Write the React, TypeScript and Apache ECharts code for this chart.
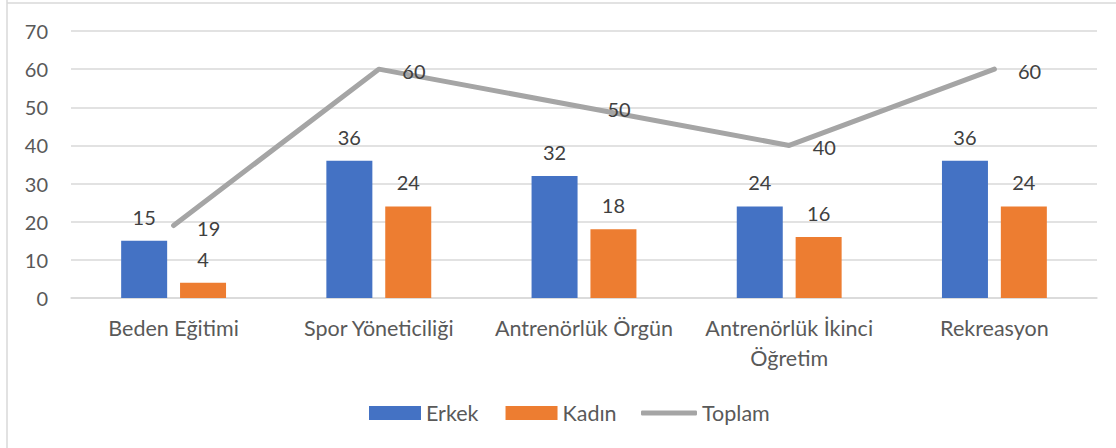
import React, { useEffect, useRef } from "react";
import * as echarts from "echarts";

const categories = [
  "Beden Eğitimi",
  "Spor Yöneticiliği",
  "Antrenörlük Örgün",
  "Antrenörlük İkinci\nÖğretim",
  "Rekreasyon",
];
const erkek = [15, 36, 32, 24, 36];
const kadin = [4, 24, 18, 16, 24];
const toplam = [19, 60, 50, 40, 60];
const seriesNames = ["Erkek", "Kadın", "Toplam"];

const FONT = "Lato, 'Open Sans', sans-serif";

export default function App() {
  const ref = useRef<HTMLDivElement>(null);
  useEffect(() => {
    document.body.style.margin = "0";
    const chart = echarts.init(ref.current!, null, { renderer: "svg" });
    const labelStyle = {
      show: true,
      color: "#404040",
      fontSize: 20,
      fontFamily: FONT,
    };
    const legendText = { color: "#595959", fontSize: 21.5, fontFamily: FONT };
    chart.setOption({
      animation: false,
      backgroundColor: "#ffffff",
      textStyle: { fontFamily: FONT },
      grid: { left: 71, right: 19, top: 31, bottom: 150, containLabel: false },
      graphic: [
        {
          type: "line",
          shape: { x1: 7, y1: 0, x2: 7, y2: 448 },
          style: { stroke: "#D9D9D9", lineWidth: 1.5 },
        },
        {
          type: "line",
          shape: { x1: 7, y1: 3, x2: 1116, y2: 3 },
          style: { stroke: "#D9D9D9", lineWidth: 1.5 },
        },
      ],
      legend: [
        {
          left: 364,
          top: 397,
          itemWidth: 52,
          itemHeight: 14,
          itemGap: 27,
          textStyle: legendText,
          data: [
            { name: seriesNames[0], icon: "rect" },
            { name: seriesNames[1], icon: "rect" },
          ],
        },
        {
          left: 636,
          top: 397,
          itemWidth: 56,
          itemHeight: 5,
          textStyle: legendText,
          data: [{ name: seriesNames[2], icon: "roundRect", itemStyle: { color: "#A5A5A5" } }],
        },
      ],
      xAxis: {
        type: "category",
        data: categories,
        axisTick: { show: false },
        axisLine: { lineStyle: { color: "#D9D9D9", width: 1.5 } },
        axisLabel: {
          color: "#595959",
          fontSize: 21.5,
          fontFamily: FONT,
          margin: 15,
          lineHeight: 30,
          interval: 0,
        },
      },
      yAxis: {
        type: "value",
        min: 0,
        max: 70,
        interval: 10,
        axisLine: { show: false },
        axisTick: { show: false },
        splitLine: { lineStyle: { color: "#D9D9D9", width: 1.5 } },
        axisLabel: {
          color: "#595959",
          fontSize: 20,
          fontFamily: FONT,
          margin: 23,
        },
      },
      series: [
        {
          name: seriesNames[0],
          type: "bar",
          data: erkek,
          barWidth: 46,
          barGap: "28%",
          itemStyle: { color: "#4472C4" },
          label: { ...labelStyle, position: "top", distance: 14 },
        },
        {
          name: seriesNames[1],
          type: "bar",
          data: kadin,
          barWidth: 46,
          barGap: "28%",
          itemStyle: { color: "#ED7D31" },
          label: { ...labelStyle, position: "top", distance: 14 },
        },
        {
          name: seriesNames[2],
          type: "line",
          data: toplam,
          symbol: "circle",
          symbolSize: 1,
          showSymbol: true,
          lineStyle: { color: "#A5A5A5", width: 5, cap: "round", join: "round" },
          itemStyle: { color: "#A5A5A5" },
          label: { ...labelStyle, position: "right", distance: 23, offset: [0, 2] },
          z: 3,
        },
      ],
    });
    return () => chart.dispose();
  }, []);
  return <div ref={ref} style={{ width: 1116, height: 448 }} />;
}
